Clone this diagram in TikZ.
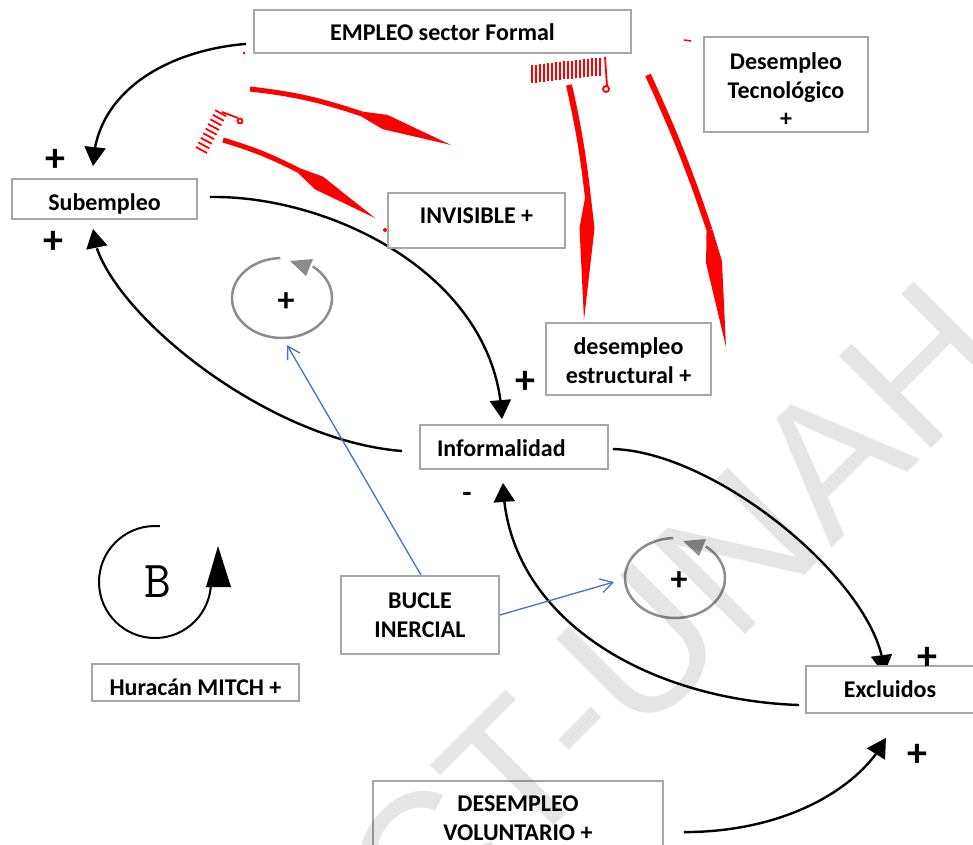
\documentclass[tikz,border=0pt]{standalone}
\usepackage{fontspec}
\setmainfont{Carlito}
\newfontfamily\wmfont{Liberation Sans}
\usetikzlibrary{arrows.meta,calc,bending,backgrounds}
\definecolor{boxgray}{HTML}{A6A6A6}
\definecolor{bluearr}{HTML}{4472C4}
\definecolor{loopgray}{HTML}{8C8C8C}
\newcommand{\redkite}[5]{\fill[red] ($#1!#5!90:#2$) -- ($#2!#4!90:#3$) -- #3 -- ($#2!#4!-90:#3$) -- ($#1!#5!-90:#2$) -- cycle;}
\begin{document}
\begin{tikzpicture}[x=1pt,y=1pt,
  box/.style={draw=boxgray, line width=1.8pt, fill=white, inner sep=0pt, align=center, font=\fontsize{24}{28.5}\selectfont\bfseries},
  conn/.style={line width=2.4pt, -{Triangle[length=19pt,width=21pt]}},
  bluelink/.style={draw=bluearr, line width=1.3pt, -{Straight Barb[length=12pt,width=14pt]}},
  sign/.style={font=\fontsize{40}{40}\selectfont\bfseries, inner sep=0pt},
  redarrow/.style={draw=red, line width=5pt},
  hatch/.style={draw=red, line width=1.8pt},
  loopline/.style={draw=loopgray, line width=2.5pt},
  looptip/.style={fill=loopgray},
]
\useasboundingbox (0,0) rectangle (973,-844);
\clip (0,0) rectangle (973,-844);

% boxes
\node[box, minimum width=377pt, minimum height=43pt, text height=18.4pt, text depth=0pt] (emp) at (442.5,-31.5) {EMPLEO sector Formal};
\node[box, minimum width=164pt, minimum height=95pt] (tec) at (786,-84.5) {\rule{0pt}{27pt}Desempleo\\Tecnológico\\+};
\node[box, minimum width=185pt, minimum height=40pt, text height=23.4pt, text depth=0pt] (sub) at (104.5,-199) {Subempleo};
\node[box, minimum width=177pt, minimum height=55pt, text height=6.4pt, text depth=0pt] (inv) at (476.5,-220.5) {INVISIBLE +};
\node[box, minimum width=165pt, minimum height=72pt] (est) at (628.5,-359) {\rule{0pt}{20pt}desempleo\\estructural +};
\node[box, minimum height=44pt, text width=154pt, align=left, inner xsep=17pt, text height=18.4pt, text depth=0pt] (inf) at (514,-447) {Informalidad};
\node[box, minimum width=158pt, minimum height=78pt] (buc) at (420,-615) {BUCLE\\INERCIAL};
\node[box, minimum width=207pt, minimum height=37pt, text height=25.4pt, text depth=0pt] (hur) at (195.5,-682.5) {Huracán MITCH +};
\node[box, minimum width=168pt, minimum height=47pt, text height=15.4pt, text depth=0pt] (exc) at (890,-689.5) {Excluidos};
\node[box, minimum width=290pt, minimum height=74pt] (vol) at (518,-818) {DESEMPLEO\\VOLUNTARIO +};

% loop centres
\coordinate (loop1) at (282,-298);
\coordinate (loop2) at (675,-578);
\coordinate (loopB) at (155,-582);

\begin{pgfonlayer}{background}
\fill[white] (0,0) rectangle (973,-844);
% black causal connectors
\draw[conn] ($(emp.south west)+(-7,10)$) .. controls (170,-50) and (95,-90) .. ($(sub.north)+(-11.5,12)$);
\draw[conn] ($(sub.east)+(12,2)$) .. controls (330,-195) and (497,-275) .. ($(inf.north)+(-12,5)$);
\draw[conn] ($(inf.west)+(-17,-4)$) .. controls (260,-440) and (95,-300) .. ($(sub.south)+(-11.5,-9)$);
\draw[conn] ($(inf.east)+(4,-2)$) .. controls (720,-452) and (884,-590) .. ($(exc.north)+(-6,-9)$);
\draw[conn] ($(exc.west)+(-6,-15.5)$) .. controls (650,-700) and (506,-620) .. ($(inf.south)+(-11,-13)$);
\draw[conn] ($(vol.north east)+(20,-52)$) .. controls (790,-832) and (862,-785) .. ($(exc.south)+(-4,-24)$);
% blue links
\draw[bluelink] ($(buc.north)+(1,0)$) -- ($(loop1)+(5,-47)$);
\draw[bluelink] (buc.east) -- ($(loop2)+(-61,-4)$);
\end{pgfonlayer}

% reinforcing loop symbols
\draw[loopline] (loop1) ++(92:50pt and 40pt) arc[start angle=92, end angle=412, x radius=50pt, y radius=40pt];
\fill[looptip] ($(loop1)+(8,37)$) -- ($(loop1)+(31,39)$) -- ($(loop1)+(24,22)$) -- cycle;
\node[sign, font=\fontsize{34}{34}\selectfont\bfseries] (p1) at ($(loop1)+(4,-4)$) {+};
\draw[loopline] (loop2) ++(92:50pt and 40pt) arc[start angle=92, end angle=412, x radius=50pt, y radius=40pt];
\fill[looptip] ($(loop2)+(8,37)$) -- ($(loop2)+(31,39)$) -- ($(loop2)+(24,22)$) -- cycle;
\node[sign, font=\fontsize{34}{34}\selectfont\bfseries] (p2) at ($(loop2)+(4,-3)$) {+};

% balancing symbol
\draw[line width=2pt] (loopB) ++(85:56pt) arc[start angle=85, end angle=355, radius=56pt];
\fill ($(loopB)+(63,36)$) -- ($(loopB)+(51,-5)$) -- ($(loopB)+(76,-5)$) -- cycle;
\node[font=\ttfamily\fontsize{52}{52}\selectfont, inner sep=0pt] (bsym) at ($(loopB)+(3,0)$) {B};

% polarity signs
\node[sign] (s1) at (55,-160) {+};
\node[sign] (s2) at (53,-242) {+};
\node[sign] (s3) at (525,-382) {+};
\node[sign] (s4) at (927,-658) {+};
\node[sign] (s5) at (917,-755) {+};
\node[sign, font=\fontsize{30}{30}\selectfont\bfseries] (s6) at (467,-497) {-};

% red hand-drawn arrows
\draw[redarrow] (250,-89) to[bend left=6] (362,-114);
\redkite{(362,-114)}{(385,-122)}{(451,-145)}{7.5pt}{2.5pt}
\draw[redarrow] (223,-140) to[bend left=5] (299,-170.5);
\redkite{(299,-170.5)}{(319,-183)}{(375,-218)}{7.5pt}{2.5pt}
\draw[redarrow, line width=6pt] (569,-85) to[bend left=3] (588,-198);
\redkite{(588,-198)}{(587,-228)}{(584,-320)}{7.5pt}{3pt}
\draw[redarrow, line width=6pt] (648,-75) to[bend left=3] (709.5,-230);
\redkite{(709.5,-230)}{(714,-262)}{(726,-347)}{8pt}{3pt}
% hatches
\foreach \i in {0,...,17} {\draw[hatch] ({532+4*\i},{-65+0.44*\i}) -- ++(0,-18);}
\draw[hatch] (605,-57) -- (607,-86);
\draw[hatch] (606,-89) circle (3pt);
\foreach \i in {0,...,8} {\draw[hatch] ({196+2.4*\i},{-147+4.6*\i}) -- ++(11,-6);}
\draw[hatch] (222,-112) -- (238,-118);
\draw[hatch] (240,-121) circle (2.5pt);
\fill[red] (244,-53) circle (1.5pt);
\fill[red] (385,-230) circle (2pt);
\draw[red, line width=1.5pt] (684,-40) -- (691,-41);

% watermark
\node[rotate=45, anchor=base west, font=\wmfont\fontsize{189}{189}\selectfont, text=black, text opacity=0.1, inner sep=0pt] (wm) at (423,-957) {CT-UNAH};
\end{tikzpicture}
\end{document}
